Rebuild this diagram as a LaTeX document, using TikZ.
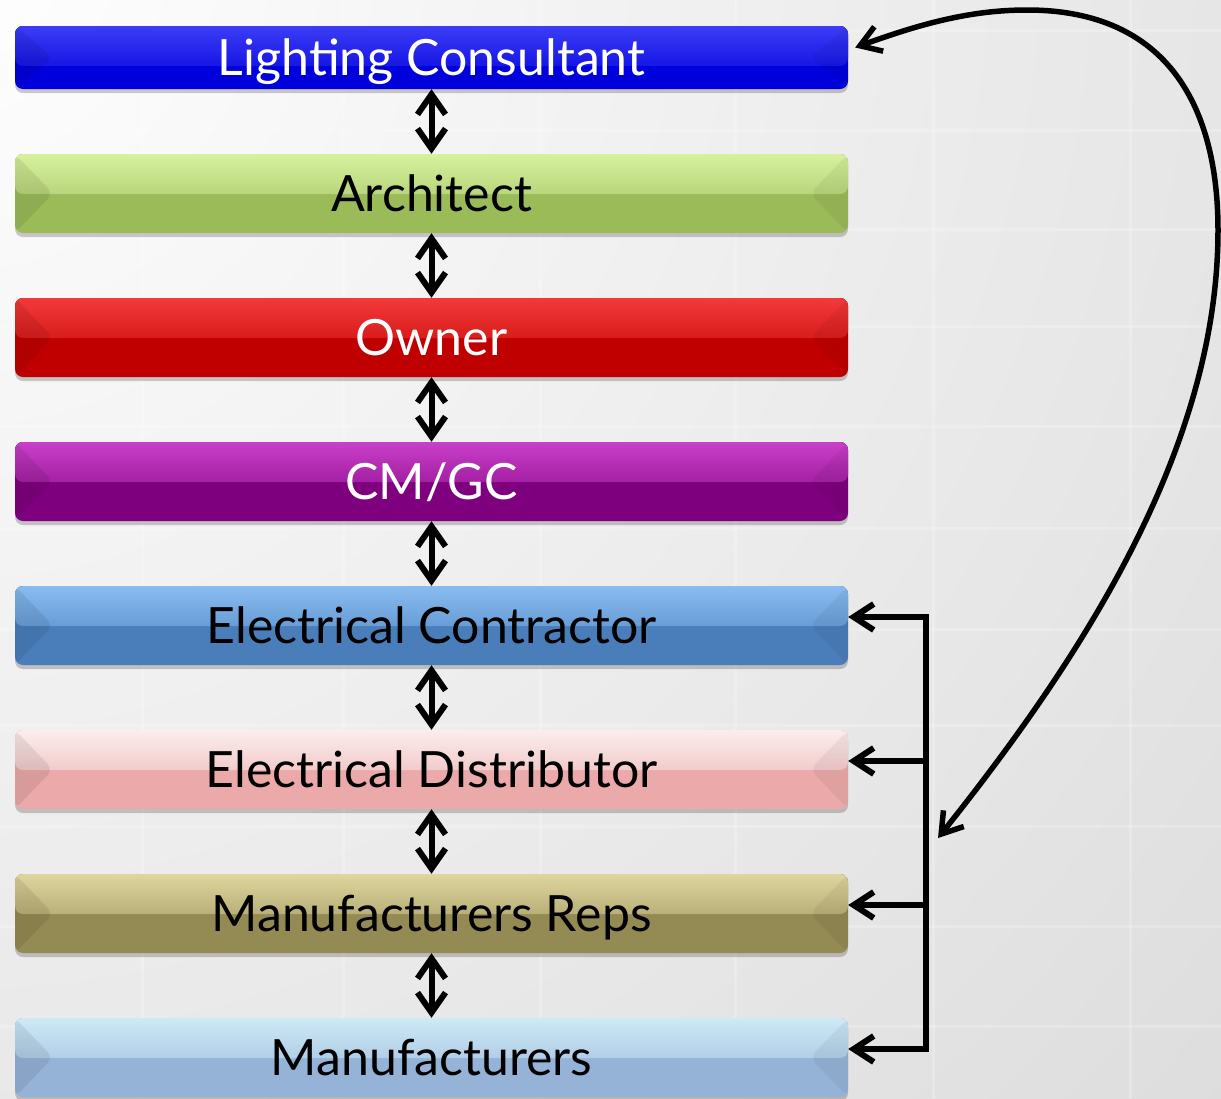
\documentclass[tikz,border=0pt]{standalone}
\usepackage{fontspec}
\setmainfont{Lato}
\usetikzlibrary{arrows.meta,shadows,calc}
\definecolor{bggray}{HTML}{D6D6D6}
\definecolor{lcbase}{HTML}{0000DC}\definecolor{lctop}{HTML}{5050FF}
\definecolor{arbase}{HTML}{9BBB59}\definecolor{artop}{HTML}{E6FFB0}
\definecolor{owbase}{HTML}{C00000}\definecolor{owtop}{HTML}{FF4848}
\definecolor{cmbase}{HTML}{7E007E}\definecolor{cmtop}{HTML}{DC50DC}
\definecolor{ecbase}{HTML}{4A7EBB}\definecolor{ectop}{HTML}{98CCFF}
\definecolor{edbase}{HTML}{EBA9A9}\definecolor{edtop}{HTML}{FFFFFF}
\definecolor{mrbase}{HTML}{948A54}\definecolor{mrtop}{HTML}{F2E8B0}
\definecolor{mfbase}{HTML}{95B3D7}\definecolor{mftop}{HTML}{DCF8FF}
\tikzset{
  barbox/.style n args={3}{
    minimum width=833pt, minimum height=79pt, inner sep=0pt,
    text height=36pt, text depth=0pt,
    rounded corners=8pt, fill=#1, text=#3,
    font=\fontsize{50}{60}\selectfont,
    drop shadow={shadow xshift=0pt, shadow yshift=-4pt, opacity=0.2, fill=black},
    path picture={
      \fill[top color=#2, bottom color=#1]
        ([yshift=20pt]path picture bounding box.north west) rectangle
        ([yshift=-40pt]path picture bounding box.north east);
      \fill[black, opacity=0.08]
        (path picture bounding box.north west) --
        ([xshift=38pt]path picture bounding box.west) --
        (path picture bounding box.south west) -- cycle;
      \fill[black, opacity=0.05]
        (path picture bounding box.north east) --
        ([xshift=-38pt]path picture bounding box.east) --
        (path picture bounding box.south east) -- cycle;
    }
  },
  linkarrow/.style={line width=6pt, {Straight Barb[length=20pt,width=28pt]}-{Straight Barb[length=20pt,width=28pt]}},
  bracketline/.style={line width=6pt, line join=miter},
  barbtip/.style={-{Straight Barb[length=20pt,width=26pt]}},
  curvearrow/.style={line width=5.5pt, {Straight Barb[length=20pt,width=26pt]}-{Straight Barb[length=20pt,width=26pt]}},
  tileline/.style={white, opacity=0.22, line width=3pt}
}
\begin{document}
\begin{tikzpicture}[x=1pt,y=-1pt]
\useasboundingbox (0,0) rectangle (1221,1098);
% background
\begin{scope}
\clip (0,0) rectangle (1221,1098);
\shade[inner color=white, outer color=bggray] (-60,-60) circle (2100);
\foreach \yy in {30,130,229,326,426,528,629,725,826,926,1026}
  \draw[tileline] (0,\yy) -- (1221,\yy);
\foreach \xx in {142,343,540,735,933,1130}
  \draw[tileline] (\xx,0) -- (\xx,1098);
\end{scope}
% bars
\node[barbox={lcbase}{lctop}{white}, minimum height=63pt] (lc) at (431.5,57.5) {Lighting Consultant};
\node[barbox={arbase}{artop}{black}] (ar) at (431.5,193.5) {Architect};
\node[barbox={owbase}{owtop}{white}] (ow) at (431.5,337.5) {Owner};
\node[barbox={cmbase}{cmtop}{white}] (cm) at (431.5,481.5) {CM/GC};
\node[barbox={ecbase}{ectop}{black}] (ec) at (431.5,625.5) {Electrical Contractor};
\node[barbox={edbase}{edtop}{black}] (ed) at (431.5,769.5) {Electrical Distributor};
\node[barbox={mrbase}{mrtop}{black}] (mr) at (431.5,913.5) {Manufacturers Reps};
\node[barbox={mfbase}{mftop}{black}] (mf) at (431.5,1057.5) {Manufacturers};
% vertical double arrows
\draw[linkarrow] (lc.south) -- (ar.north);
\draw[linkarrow] (ar.south) -- (ow.north);
\draw[linkarrow] (ow.south) -- (cm.north);
\draw[linkarrow] (cm.south) -- (ec.north);
\draw[linkarrow] (ec.south) -- (ed.north);
\draw[linkarrow] (ed.south) -- (mr.north);
\draw[linkarrow] (mr.south) -- (mf.north);
% bracket
\coordinate (br1) at (926,617);
\coordinate (br2) at (926,761);
\coordinate (br3) at (926,905);
\coordinate (br4) at (926,1049);
\draw[bracketline, {Straight Barb[length=20pt,width=26pt]}-{Straight Barb[length=20pt,width=26pt]}]
  (br1 -| ec.east) -- (br1) -- (br4) -- (br4 -| mf.east);
\draw[bracketline, barbtip] (br2) -- (br2 -| ed.east);
\draw[bracketline, barbtip] (br3) -- (br3 -| mr.east);
% curved arrow
\coordinate (cv) at (938,838);
\draw[curvearrow] ([xshift=7pt,yshift=10pt]lc.east)
  .. controls (920,24) and (970,10) .. (1027,10)
  .. controls (1170,10) and (1218,110) .. (1218,230)
  .. controls (1218,450) and (1080,660) .. (cv);
\end{tikzpicture}
\end{document}
